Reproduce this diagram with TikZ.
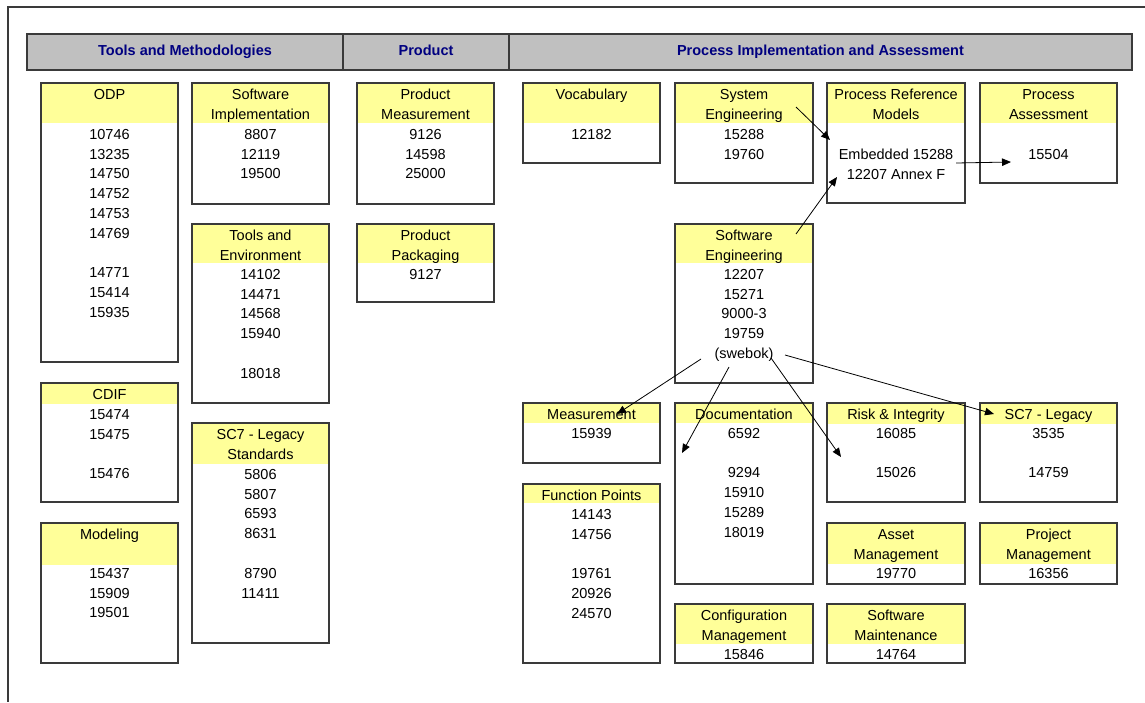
\documentclass[tikz,border=0pt]{standalone}
\usepackage{fontspec}
\setmainfont{Liberation Sans}
\usetikzlibrary{fit,arrows.meta}

\definecolor{cellyellow}{HTML}{FFFF99}
\definecolor{hdrgray}{HTML}{C0C0C0}
\definecolor{hdrblue}{HTML}{000080}
\definecolor{rulegray}{HTML}{3A3A3A}

\tikzset{
  cellframe/.style={draw=rulegray, line width=1.1pt, inner sep=0pt, outer sep=0pt},
  celltext/.style={anchor=north, align=center, inner sep=0pt, outer sep=0pt,
    font=\fontsize{14.5}{19.8}\selectfont},
  hdrcell/.style={draw=rulegray, fill=hdrgray, line width=1.3pt, inner sep=0pt, outer sep=0pt},
  hdrtext/.style={anchor=base, inner sep=0pt, text=hdrblue,
    font=\bfseries\fontsize{14.5}{17}\selectfont},
  link/.style={draw=black, line width=0.8pt, -{Triangle[length=9pt,width=7.5pt]}},
}

% \stdcell{name}{x1}{y1}{x2}{y2}{band bottom}{title}{first body line y}{body}
\newcommand\stdcell[9]{%
  \fill[cellyellow] (#2,#3) rectangle (#4,#6);
  \node[cellframe, fit={(#2,#3) (#4,#5)}] (#1) {};
  \node[celltext] (#1-title) at ({(#2+#4)/2}, {#3+5.2}) {\rule{0pt}{11pt}#7};
  \node[celltext] (#1-body) at ({(#2+#4)/2}, {#8-5.8}) {\rule{0pt}{11pt}#9};
}

\begin{document}
\begin{tikzpicture}[x=1pt, y=-1pt]
  \fill[white] (0,0) rectangle (1145,702);
  \useasboundingbox (0,0) rectangle (1145,702);

  % page frame
  \draw[rulegray, line width=1.2pt] (1145,7) -- (8,7) -- (8,702);

  % column headers
  \node[hdrcell, fit={(27,34) (343,70)}] (hdr-tools) {};
  \node[hdrcell, fit={(343,34) (509,70)}] (hdr-product) {};
  \node[hdrcell, fit={(509,34) (1132,70)}] (hdr-process) {};
  \node[hdrtext] (hdr-tools-t) at (185,55.5) {Tools and Methodologies};
  \node[hdrtext] (hdr-product-t) at (426,55.5) {Product};
  \node[hdrtext] (hdr-process-t) at (820.5,55.5) {Process Implementation and Assessment};

  % tools and methodologies
  \stdcell{odp}{41}{83}{178}{362}{123}{ODP}{134}
    {10746\\13235\\14750\\14752\\14753\\14769\\ \\14771\\15414\\15935}
  \stdcell{cdif}{41}{383}{178}{502}{404}{CDIF}{414}{15474\\15475\\ \\15476}
  \stdcell{modeling}{41}{523}{178}{663}{565}{Modeling}{573}{15437\\15909\\19501}
  \stdcell{swimpl}{192}{83}{329}{204}{123}{Software\\Implementation}{134}{8807\\12119\\19500}
  \stdcell{toolsenv}{192}{224}{329}{403}{263}{Tools and\\Environment}{274}
    {14102\\14471\\14568\\15940\\ \\18018}
  \stdcell{legacyA}{192}{423}{329}{643}{464}{SC7 - Legacy\\Standards}{474}
    {5806\\5807\\6593\\8631\\ \\8790\\11411}

  % product
  \stdcell{pmeas}{357}{83}{494}{204}{123}{Product\\Measurement}{134}{9126\\14598\\25000}
  \stdcell{ppack}{357}{224}{494}{302}{263}{Product\\Packaging}{274}{9127}

  % process implementation and assessment
  \stdcell{vocab}{523}{83}{660}{163}{123}{Vocabulary}{134}{12182}
  \stdcell{syseng}{675}{83}{813}{183}{123}{System\\Engineering}{134}{15288\\19760}
  \stdcell{prm}{827}{83}{965}{203}{123}{Process Reference\\Models}{154}
    {Embedded 15288\\12207 Annex F}
  \stdcell{passess}{980}{83}{1117}{183}{123}{Process\\Assessment}{154}{15504}
  \stdcell{sweng}{675}{224}{813}{383}{263}{Software\\Engineering}{274}
    {12207\\15271\\9000-3\\19759\\(swebok)}
  \stdcell{meas}{523}{403}{660}{463}{423}{Measurement}{433}{15939}
  \stdcell{doc}{675}{403}{813}{584}{423}{Documentation}{433}
    {6592\\ \\9294\\15910\\15289\\18019}
  \stdcell{risk}{827}{403}{965}{502}{424}{Risk \& Integrity}{433}{16085\\ \\15026}
  \stdcell{legacyB}{980}{403}{1117}{502}{424}{SC7 - Legacy}{433}{3535\\ \\14759}
  \stdcell{fp}{523}{484}{660}{663}{503}{Function Points}{514}
    {14143\\14756\\ \\19761\\20926\\24570}
  \stdcell{asset}{827}{523}{965}{584}{564}{Asset\\Management}{573}{19770}
  \stdcell{proj}{980}{523}{1117}{584}{564}{Project\\Management}{573}{16356}
  \stdcell{cfg}{675}{604}{813}{663}{644}{Configuration\\Management}{654}{15846}
  \stdcell{swm}{827}{604}{965}{663}{644}{Software\\Maintenance}{654}{14764}

  % connector end points
  \coordinate (syseng-out) at (796,107);
  \coordinate (prm-in-a)   at (830,140);
  \coordinate (sweng-up)   at (796,234);
  \coordinate (prm-in-b)   at (837,177);
  \coordinate (prm-out)    at (956,163);
  \coordinate (passess-in) at (1011,162);
  \coordinate (swebok-l)   at (701,359);
  \coordinate (meas-in)    at (617,414);
  \coordinate (swebok-m)   at (729,367);
  \coordinate (doc-in)     at (682,453);
  \coordinate (swebok-r)   at (771,358);
  \coordinate (risk-in)    at (841,457);
  \coordinate (swebok-rr)  at (785,355);
  \coordinate (legacy-in)  at (994,414);

  \draw[link] (syseng-out) -- (prm-in-a);
  \draw[link] (sweng-up) -- (prm-in-b);
  \draw[link] (prm-out) -- (passess-in);
  \draw[link] (swebok-l) -- (meas-in);
  \draw[link] (swebok-m) -- (doc-in);
  \draw[link] (swebok-r) -- (risk-in);
  \draw[link] (swebok-rr) -- (legacy-in);
\end{tikzpicture}
\end{document}
